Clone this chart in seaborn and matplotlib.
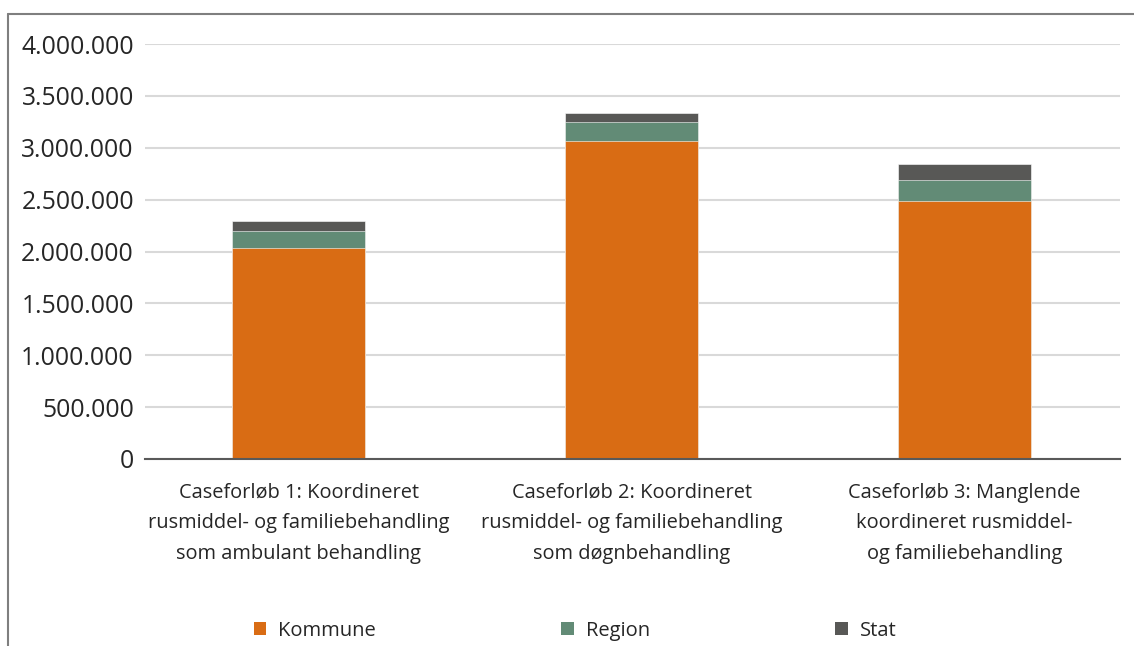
import matplotlib
matplotlib.use("Agg")
import matplotlib.pyplot as plt
from matplotlib.lines import Line2D
from matplotlib.patches import Patch
from matplotlib.ticker import FuncFormatter
import numpy as np
import seaborn as sns

# Costs per case course, split by payer (DKK)
categories = [
    "Caseforløb 1: Koordineret\nrusmiddel- og familiebehandling\nsom ambulant behandling",
    "Caseforløb 2: Koordineret\nrusmiddel- og familiebehandling\nsom døgnbehandling",
    "Caseforløb 3: Manglende\nkoordineret rusmiddel-\nog familiebehandling",
]
kommune = [2030000, 3068000, 2490000]
region = [167000, 180000, 202000]
stat = [94000, 90000, 148000]
series_names = ["Kommune", "Region", "Stat"]
y_ticks = [0, 500000, 1000000, 1500000, 2000000, 2500000, 3000000, 3500000, 4000000]

colors = {"Kommune": "#D96C14", "Region": "#628B76", "Stat": "#585856"}

sns.set_theme(style="white")
plt.rcParams["font.family"] = ["Open Sans", "DejaVu Sans"]

fig = plt.figure(figsize=(11.34, 6.46), dpi=100)
W, H = 1134, 646
ax = fig.add_axes([145 / W, (H - 459) / H, (1120 - 145) / W, (459 - 44) / H])

# Stacked bars: draw cumulative totals from top segment down
k = np.array(kommune)
r = np.array(region)
s = np.array(stat)
layers = [("Stat", k + r + s), ("Region", k + r), ("Kommune", k)]
for name, vals in layers:
    sns.barplot(x=list(range(len(categories))), y=vals, color=colors[name],
                width=0.40, saturation=1, ax=ax, edgecolor="white",
                linewidth=0.4, zorder=3)

ax.set_ylim(0, 4000000)
ax.set_xlim(-0.462, 2.467)
ax.set_yticks(y_ticks)
ax.yaxis.set_major_formatter(FuncFormatter(lambda v, p: f"{int(v):,}".replace(",", ".")))
ax.set_xticks(range(len(categories)))
ax.set_xticklabels(categories, fontsize=14.4, color="#262626", linespacing=1.72)
ax.tick_params(axis="y", labelsize=17.8, colors="#262626", length=0, pad=8)
ax.tick_params(axis="x", length=0, pad=17)
ax.set_xlabel("")
ax.set_ylabel("")

ax.yaxis.grid(True, color="#D9D9D9", linewidth=1.5, zorder=0)
ax.set_axisbelow(True)
for side in ["left", "right", "top"]:
    ax.spines[side].set_visible(False)
ax.spines["bottom"].set_color("#595959")
ax.spines["bottom"].set_linewidth(1.5)
ax.spines["bottom"].set_zorder(4)

# Legend
handles = [Patch(facecolor=colors[n], edgecolor="none") for n in series_names]
fig.legend(handles, series_names, loc="center", bbox_to_anchor=(575 / W, (H - 631) / H),
           ncol=3, frameon=False, fontsize=14.5, handlelength=0.62, handleheight=0.62,
           handletextpad=0.6, columnspacing=9.2, labelcolor="#262626")

# Chart frame
fig.add_artist(Line2D([8 / W, 1.0], [(H - 14) / H] * 2, color="#7F7F7F", lw=1.5))
fig.add_artist(Line2D([8 / W] * 2, [0, (H - 14) / H], color="#7F7F7F", lw=1.5))

fig.savefig("out.png", dpi=100)
